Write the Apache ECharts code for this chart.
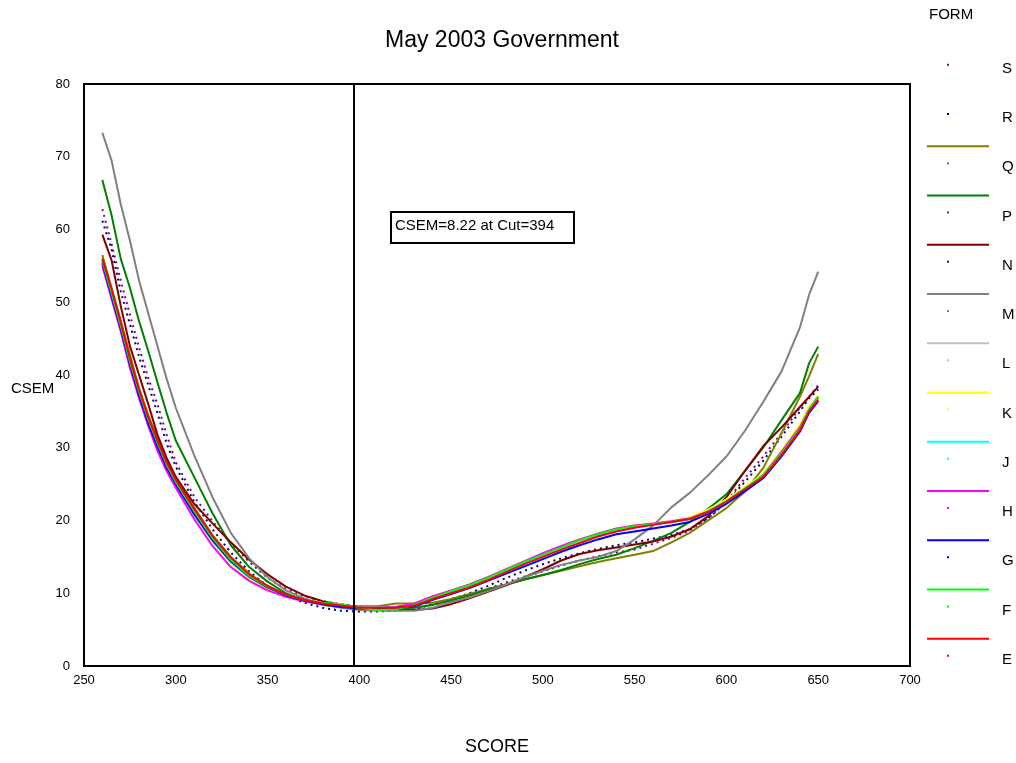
<!DOCTYPE html>
<html>
<head>
<meta charset="utf-8">
<script src="https://cdn.jsdelivr.net/npm/echarts@6/dist/echarts.min.js"></script>
<style>
html,body{margin:0;padding:0;background:#fff;}
#chart{width:1016px;height:763px;}
</style>
</head>
<body>
<div id="chart"></div>
<script>
// ---- data ----
const titleText = 'May 2003 Government';
const xName = 'SCORE';
const yName = 'CSEM';
const legendTitle = 'FORM';
const cutScore = 397;
const cutLabel = 'CSEM=8.22 at Cut=394';
const xTicks = [250, 300, 350, 400, 450, 500, 550, 600, 650, 700];
const yTicks = [0, 10, 20, 30, 40, 50, 60, 70, 80];

const scores = [260, 265, 270, 275, 280, 285, 290, 295, 300, 310, 320, 330, 340, 350, 360, 370, 380, 390, 400,
  410, 420, 430, 440, 450, 460, 470, 480, 490, 500, 510, 520, 530, 540, 550, 560, 570, 580, 590, 600,
  610, 620, 630, 640, 645, 650];

const formNames = ['S', 'R', 'Q', 'P', 'N', 'M', 'L', 'K', 'J', 'H', 'G', 'F', 'E'];

const formS = [62.8, 58.0, 53.0, 48.3, 43.8, 39.6, 36.0, 31.8, 28.0, 23.3, 19.9, 16.9, 14.3, 12.1, 10.6, 9.6, 8.9, 8.5, 8.2,
  8.1, 8.1, 8.1, 8.4, 9.0, 9.7, 10.6, 11.5, 12.3, 13.0, 13.8, 14.5, 15.1, 15.6, 16.0, 16.8, 17.6, 18.6, 20.3, 22.6,
  25.8, 28.8, 32.0, 35.5, 37.0, 38.6];
const formR = [61.2, 57.3, 51.5, 47.0, 42.5, 38.6, 34.8, 30.6, 27.4, 22.6, 18.8, 15.6, 13.0, 11.0, 9.6, 8.7, 8.0, 7.6, 7.5,
  7.5, 7.6, 7.8, 8.5, 9.2, 10.0, 11.0, 12.1, 13.1, 14.0, 14.8, 15.5, 16.1, 16.6, 17.0, 17.5, 18.0, 18.8, 20.3, 22.5,
  25.3, 28.2, 31.5, 35.0, 36.8, 38.0];
const formQ = [56.5, 52.0, 47.5, 42.8, 38.2, 34.5, 31.3, 28.3, 25.9, 21.8, 18.0, 15.0, 12.7, 11.0, 9.8, 9.0, 8.5, 8.2, 8.2,
  8.2, 8.6, 8.6, 8.7, 9.2, 9.9, 10.6, 11.2, 11.9, 12.5, 13.1, 13.7, 14.3, 14.8, 15.3, 15.8, 17.0, 18.3, 20.0, 21.7,
  24.0, 27.2, 32.0, 37.0, 39.8, 42.9];
const formP = [66.8, 62.0, 56.0, 52.0, 47.4, 43.3, 39.0, 34.8, 31.0, 26.0, 21.0, 16.6, 13.6, 11.6, 10.0, 9.0, 8.4, 8.1, 7.9,
  7.9, 7.9, 8.0, 8.4, 9.0, 9.7, 10.5, 11.2, 11.9, 12.5, 13.2, 14.0, 14.7, 15.3, 16.2, 17.2, 18.3, 19.8, 21.6, 23.6,
  26.8, 30.0, 33.8, 37.5, 41.6, 43.9];
const formN = [59.3, 55.8, 49.5, 44.0, 40.0, 36.0, 31.8, 28.6, 26.0, 22.3, 19.6, 17.0, 14.6, 12.6, 10.9, 9.7, 8.9, 8.4, 8.1,
  7.8, 7.7, 7.7, 7.9, 8.5, 9.3, 10.2, 11.1, 12.2, 13.3, 14.5, 15.4, 15.9, 16.3, 16.7, 17.1, 17.8, 18.8, 20.6, 23.2,
  26.8, 30.2, 32.8, 35.6, 37.0, 38.4];
const formM = [73.3, 69.5, 63.5, 58.5, 53.0, 48.5, 44.0, 39.5, 35.5, 29.0, 23.2, 18.3, 14.8, 12.2, 10.4, 9.3, 8.5, 8.0, 7.7,
  7.6, 7.6, 7.6, 8.0, 8.8, 9.4, 10.3, 11.2, 12.2, 13.1, 13.9, 14.5, 15.0, 15.8, 17.4, 19.3, 21.8, 23.8, 26.2, 28.8,
  32.3, 36.3, 40.5, 46.5, 51.0, 54.2];
const formL = [55.8, 51.2, 46.8, 41.8, 37.6, 33.8, 30.5, 27.6, 25.2, 21.0, 17.4, 14.4, 12.2, 10.8, 9.7, 9.0, 8.5, 8.2, 8.0,
  8.0, 8.1, 8.4, 9.4, 10.2, 11.0, 12.0, 13.1, 14.2, 15.2, 16.2, 17.2, 18.0, 18.7, 19.1, 19.5, 19.8, 20.2, 21.2, 22.6,
  24.4, 26.2, 29.2, 32.6, 35.2, 36.9];
const formK = [55.5, 51.0, 46.5, 41.5, 37.3, 33.5, 30.2, 27.4, 25.0, 20.8, 17.1, 14.1, 12.0, 10.6, 9.6, 9.0, 8.5, 8.2, 8.0,
  8.0, 8.1, 8.5, 9.5, 10.3, 11.2, 12.2, 13.3, 14.4, 15.4, 16.4, 17.4, 18.2, 18.8, 19.3, 19.6, 19.9, 20.4, 21.5, 22.9,
  24.6, 26.4, 29.6, 33.2, 35.6, 37.2];
const formJ = [55.3, 50.8, 46.3, 41.3, 37.0, 33.3, 30.0, 27.2, 24.9, 20.8, 17.2, 14.3, 12.2, 10.8, 9.7, 9.0, 8.5, 8.2, 8.0,
  8.0, 8.1, 8.5, 9.4, 10.2, 11.1, 12.1, 13.2, 14.3, 15.3, 16.3, 17.3, 18.1, 18.8, 19.2, 19.5, 19.8, 20.2, 21.3, 22.7,
  24.4, 26.2, 29.4, 32.8, 35.3, 37.0];
const formH = [55.0, 50.5, 46.0, 41.0, 36.8, 33.0, 29.6, 26.8, 24.5, 20.2, 16.5, 13.6, 11.7, 10.4, 9.5, 8.9, 8.5, 8.2, 8.0,
  8.0, 8.1, 8.6, 9.6, 10.4, 11.2, 12.2, 13.3, 14.4, 15.5, 16.5, 17.4, 18.2, 18.9, 19.3, 19.6, 19.9, 20.3, 21.2, 22.5,
  24.2, 26.2, 29.4, 32.8, 35.2, 37.0];
const formG = [55.4, 50.9, 46.4, 41.5, 37.2, 33.4, 30.2, 27.3, 25.0, 20.9, 17.3, 14.4, 12.3, 10.8, 9.7, 9.0, 8.5, 8.1, 7.9,
  7.9, 8.0, 8.2, 9.1, 9.9, 10.7, 11.7, 12.7, 13.7, 14.7, 15.7, 16.6, 17.4, 18.1, 18.5, 18.9, 19.3, 19.8, 20.9, 22.3,
  24.0, 25.8, 28.8, 32.2, 34.8, 36.4];
const formF = [55.7, 51.3, 46.8, 41.9, 37.7, 33.9, 30.7, 27.7, 25.3, 21.3, 17.6, 14.6, 12.4, 10.9, 9.8, 9.1, 8.7, 8.5, 8.0,
  7.7, 7.8, 8.4, 9.4, 10.3, 11.1, 12.1, 13.2, 14.3, 15.3, 16.3, 17.3, 18.1, 18.8, 19.2, 19.5, 19.8, 20.2, 21.2, 22.6,
  24.4, 26.2, 29.2, 32.6, 35.2, 36.9];
const formE = [56.0, 51.8, 47.3, 42.3, 38.0, 34.2, 31.0, 28.0, 25.6, 21.6, 17.9, 14.9, 12.6, 11.0, 9.8, 9.1, 8.6, 8.3, 8.0,
  8.0, 8.0, 8.3, 9.2, 10.0, 10.8, 11.8, 12.9, 14.0, 15.0, 16.0, 16.9, 17.8, 18.5, 19.0, 19.4, 19.8, 20.2, 21.2, 22.6,
  24.3, 26.0, 29.0, 32.4, 35.0, 36.6];

const formValues = [formS, formR, formQ, formP, formN, formM, formL, formK, formJ, formH, formG, formF, formE];
// ---- end data ----

const formColors = ['#800080', '#000080', '#808000', '#008000', '#800000', '#808080', '#C0C0C0',
  '#FFFF00', '#00FFFF', '#FF00FF', '#0000FF', '#00FF00', '#FF0000'];
const dottedForms = ['S', 'R'];
const FONT = '"Liberation Sans", Arial, sans-serif';

const iconLineDot = 'path://M0,0H62V2H0Z M20,17H22V19H20Z M0,44L0,44Z M62,44L62,44Z';
const iconDot = 'path://M0,0L0,0Z M62,0L62,0Z M20,17H22V19H20Z M0,44L0,44Z M62,44L62,44Z';

const series = formNames.map((name, k) => {
  const dotted = dottedForms.indexOf(name) >= 0;
  const s = {
    name: name,
    type: 'line',
    data: scores.map((x, i) => [x, formValues[k][i]]),
    showSymbol: false,
    symbol: 'none',
    smooth: false,
    color: formColors[k],
    lineStyle: { color: formColors[k], width: 2, type: dotted ? [2, 4] : 'solid' },
    emphasis: { disabled: true },
    animation: false,
    silent: true
  };
  if (k === 0) {
    s.markLine = {
      silent: true,
      symbol: 'none',
      label: { show: false },
      lineStyle: { color: '#000', width: 2, type: 'solid' },
      data: [{ xAxis: cutScore }],
      animation: false
    };
  }
  return s;
});

const chart = echarts.init(document.getElementById('chart'), null, { renderer: 'canvas' });
chart.setOption({
  backgroundColor: '#fff',
  animation: false,
  textStyle: { fontFamily: FONT },
  title: {
    text: titleText,
    left: 497,
    textAlign: 'center',
    top: 24,
    textStyle: { fontFamily: FONT, fontSize: 23, fontWeight: 'normal', color: '#000' }
  },
  grid: {
    left: 84, right: 106, top: 84, bottom: 97,
    containLabel: false,
    outerBoundsMode: 'none',
    show: true, borderColor: '#000', borderWidth: 2, backgroundColor: 'transparent'
  },
  xAxis: {
    type: 'value',
    min: xTicks[0], max: xTicks[xTicks.length - 1], interval: 50,
    name: xName, nameLocation: 'middle', nameGap: 72,
    nameTextStyle: { fontFamily: FONT, fontSize: 18, color: '#000' },
    axisLine: { show: true, lineStyle: { color: '#000', width: 2 } },
    axisTick: { show: false },
    splitLine: { show: false },
    axisLabel: { color: '#000', fontSize: 13, fontFamily: FONT, margin: 8 }
  },
  yAxis: {
    type: 'value',
    min: yTicks[0], max: yTicks[yTicks.length - 1], interval: 10,
    axisLine: { show: true, lineStyle: { color: '#000', width: 2 } },
    axisTick: { show: false },
    splitLine: { show: false },
    axisLabel: { color: '#000', fontSize: 13, fontFamily: FONT, margin: 14 }
  },
  legend: {
    orient: 'vertical',
    left: 927,
    top: 46.7,
    padding: 0,
    itemWidth: 62,
    itemHeight: 44,
    itemGap: 5.25,
    selectedMode: false,
    itemStyle: { borderWidth: 0 },
    textStyle: { fontFamily: FONT, fontSize: 15, color: '#000', padding: [0, 0, 0, 8] },
    data: formNames.map(n => ({ name: n, icon: dottedForms.indexOf(n) >= 0 ? iconDot : iconLineDot }))
  },
  graphic: [
    {
      type: 'text', left: 11, top: 381,
      style: { text: yName, font: '15px "Liberation Sans", Arial, sans-serif', fill: '#000' }
    },
    {
      type: 'rect', left: 390, top: 211,
      shape: { width: 183, height: 31 },
      style: { fill: '#fff', stroke: '#000', lineWidth: 2 }
    },
    {
      type: 'text', left: 395, top: 218,
      style: { text: cutLabel, font: '15px "Liberation Sans", Arial, sans-serif', fill: '#000' }
    },
    {
      type: 'text', left: 929, top: 7,
      style: { text: legendTitle, font: '15px "Liberation Sans", Arial, sans-serif', fill: '#000' }
    }
  ],
  series: series
});
</script>
</body>
</html>
